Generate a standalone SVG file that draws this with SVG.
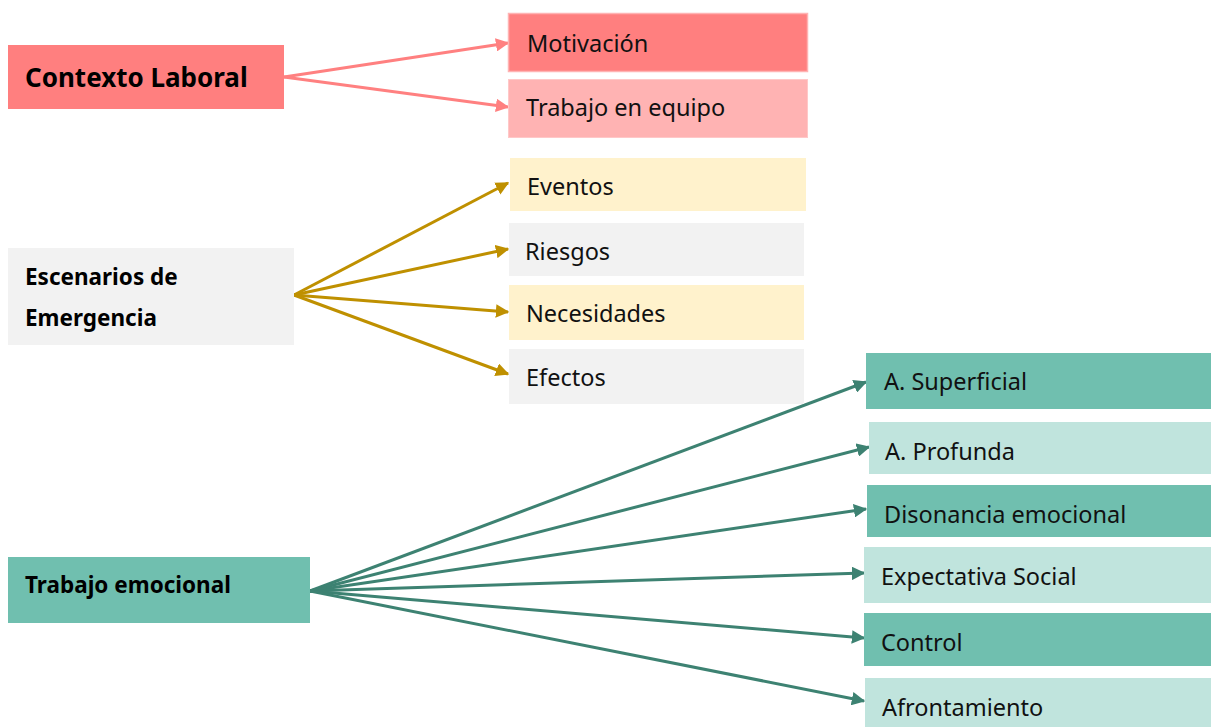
<svg xmlns="http://www.w3.org/2000/svg" width="1211" height="727" viewBox="0 0 1211 727">
<defs>
<style>
.t{font-family:"Noto Sans","Open Sans",sans-serif;font-size:23.5px;fill:#111}
.b{font-family:"Noto Sans","Open Sans",sans-serif;font-weight:bold;fill:#000}
.red{stroke:#FF8080;stroke-width:3;fill:none}
.gold{stroke:#BF9000;stroke-width:3;fill:none}
.teal{stroke:#3D8272;stroke-width:3;fill:none}
</style>
<marker id="mr" viewBox="0 0 10 10" refX="9" refY="5" markerWidth="4.5" markerHeight="4.5" orient="auto" markerUnits="strokeWidth"><path d="M0,0 L10,5 L0,10 z" fill="#FF8080"/></marker>
<marker id="mg" viewBox="0 0 10 10" refX="9" refY="5" markerWidth="4.5" markerHeight="4.5" orient="auto" markerUnits="strokeWidth"><path d="M0,0 L10,5 L0,10 z" fill="#BF9000"/></marker>
<marker id="mt" viewBox="0 0 10 10" refX="9" refY="5" markerWidth="4.5" markerHeight="4.5" orient="auto" markerUnits="strokeWidth"><path d="M0,0 L10,5 L0,10 z" fill="#3D8272"/></marker>
</defs>
<rect width="1211" height="727" fill="#fff"/>

<g id="connectors">
<path class="red" d="M284,77 L508,43" marker-end="url(#mr)"/>
<path class="red" d="M284,77 L508,107" marker-end="url(#mr)"/>
<path class="gold" d="M294,295 L508,183" marker-end="url(#mg)"/>
<path class="gold" d="M294,295 L508,249" marker-end="url(#mg)"/>
<path class="gold" d="M294,295 L508,312" marker-end="url(#mg)"/>
<path class="gold" d="M294,295 L508,374" marker-end="url(#mg)"/>
<path class="teal" d="M310,591 L866,382" marker-end="url(#mt)"/>
<path class="teal" d="M310,591 L869,447" marker-end="url(#mt)"/>
<path class="teal" d="M310,591 L866,509" marker-end="url(#mt)"/>
<path class="teal" d="M310,591 L864,573" marker-end="url(#mt)"/>
<path class="teal" d="M310,591 L864,638" marker-end="url(#mt)"/>
<path class="teal" d="M310,591 L864,701" marker-end="url(#mt)"/>
</g>

<g id="contexto">
<rect x="8" y="45" width="276" height="64" fill="#FF7F7F"/>
<text class="b" x="25" y="87" font-size="26">Contexto Laboral</text>
</g>
<g id="motivacion">
<rect x="508.5" y="13.5" width="299" height="58" fill="#FF7F7F" stroke="#FFB3B3" stroke-width="1.5"/>
<text class="t" x="527" y="52">Motivación</text>
</g>
<g id="equipo">
<rect x="508.5" y="79.5" width="299" height="58" fill="#FFB3B3" stroke="#FFC8C8" stroke-width="1"/>
<text class="t" x="526" y="116">Trabajo en equipo</text>
</g>

<g id="escenarios">
<rect x="8" y="248" width="286" height="97" fill="#F2F2F2"/>
<text class="b" x="25" y="285" font-size="22.5">Escenarios de</text>
<text class="b" x="25" y="326" font-size="22.5">Emergencia</text>
</g>
<g id="eventos">
<rect x="510" y="158" width="296" height="53" fill="#FFF2CC"/>
<text class="t" x="527" y="195">Eventos</text>
</g>
<g id="riesgos">
<rect x="509" y="223" width="295" height="53" fill="#F2F2F2"/>
<text class="t" x="525" y="260">Riesgos</text>
</g>
<g id="necesidades">
<rect x="509" y="285" width="295" height="55" fill="#FFF2CC"/>
<text class="t" x="526" y="322">Necesidades</text>
</g>
<g id="efectos">
<rect x="509" y="349" width="295" height="55" fill="#F2F2F2"/>
<text class="t" x="526" y="386">Efectos</text>
</g>

<g id="trabajo">
<rect x="8" y="557" width="302" height="66" fill="#70BFAF"/>
<text class="b" x="25" y="593" font-size="22.5">Trabajo emocional</text>
</g>
<g id="superficial">
<rect x="866" y="353" width="345" height="56" fill="#70BFAF"/>
<text class="t" x="884" y="390">A. Superficial</text>
</g>
<g id="profunda">
<rect x="869" y="422" width="342" height="52" fill="#C0E4DD"/>
<text class="t" x="885" y="460">A. Profunda</text>
</g>
<g id="disonancia">
<rect x="867" y="485" width="344" height="52" fill="#70BFAF"/>
<text class="t" x="884" y="523">Disonancia emocional</text>
</g>
<g id="expectativa">
<rect x="864" y="547" width="347" height="56" fill="#C0E4DD"/>
<text class="t" x="881" y="585">Expectativa Social</text>
</g>
<g id="control">
<rect x="864" y="613" width="347" height="53" fill="#70BFAF"/>
<text class="t" x="881" y="651">Control</text>
</g>
<g id="afrontamiento">
<rect x="865" y="678" width="346" height="49" fill="#C0E4DD"/>
<text class="t" x="882" y="716">Afrontamiento</text>
</g>
</svg>
